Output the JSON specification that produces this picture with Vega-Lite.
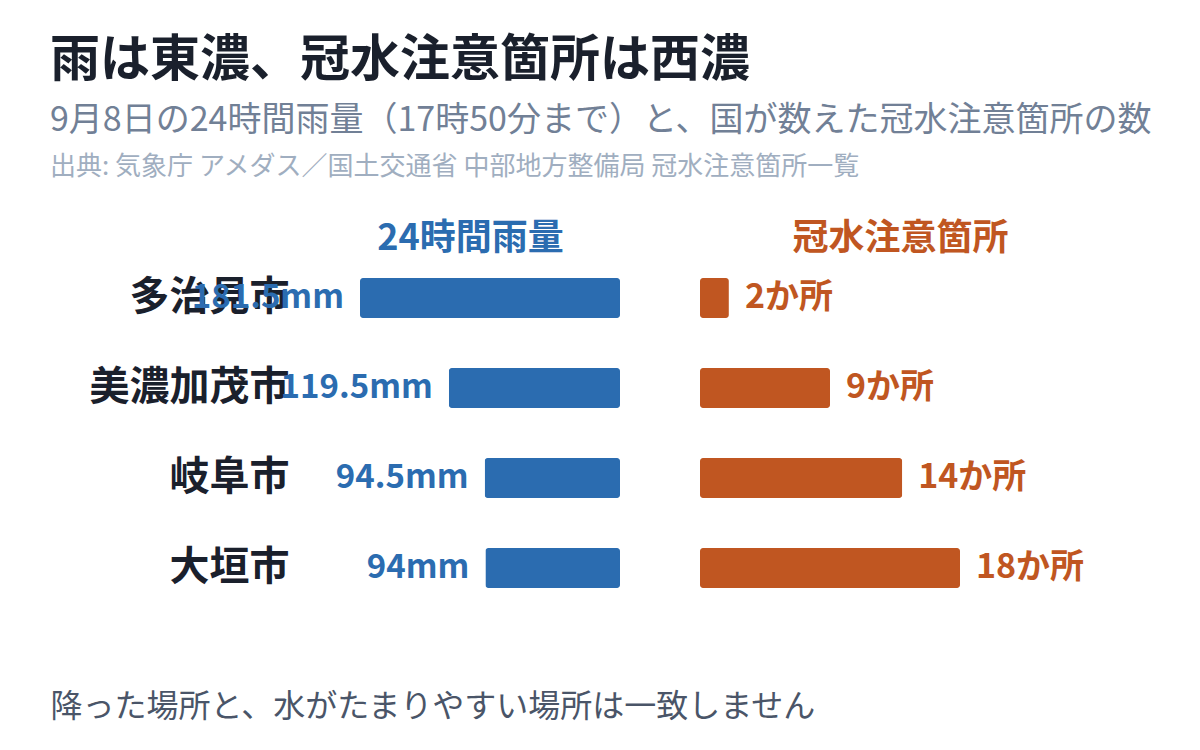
{
  "$schema": "https://vega.github.io/schema/vega-lite/v6.json",
  "background": "white",
  "padding": {"top": 36, "left": 50, "right": 10, "bottom": 10},
  "autosize": {"type": "pad"},
  "config": {"font": "Noto Sans CJK JP", "view": {"stroke": null}},
  "title": {
    "text": "雨は東濃、冠水注意箇所は西濃",
    "subtitle": "9月8日の24時間雨量（17時50分まで）と、国が数えた冠水注意箇所の数",
    "anchor": "start",
    "font": "Noto Sans CJK JP",
    "fontSize": 50,
    "fontWeight": "bold",
    "color": "#1a202c",
    "subtitleFont": "Noto Sans CJK JP",
    "subtitleFontSize": 34,
    "subtitleFontWeight": "normal",
    "subtitleColor": "#718096",
    "subtitlePadding": 18,
    "offset": 16
  },
  "data": {
    "values": [
      {"city": "多治見市", "rain": 181.5, "rainLabel": "181.5mm", "spots": 2, "spotsLabel": "2か所"},
      {"city": "美濃加茂市", "rain": 119.5, "rainLabel": "119.5mm", "spots": 9, "spotsLabel": "9か所"},
      {"city": "岐阜市", "rain": 94.5, "rainLabel": "94.5mm", "spots": 14, "spotsLabel": "14か所"},
      {"city": "大垣市", "rain": 94, "rainLabel": "94mm", "spots": 18, "spotsLabel": "18か所"}
    ]
  },
  "bounds": "flush",
  "spacing": 80,
  "hconcat": [
    {
      "width": 260,
      "height": 360,
      "title": {
        "text": "出典: 気象庁 アメダス／国土交通省 中部地方整備局 冠水注意箇所一覧",
        "anchor": "start",
        "font": "Noto Sans CJK JP",
        "fontSize": 26,
        "fontWeight": "normal",
        "color": "#a0aec0",
        "offset": 40
      },
      "encoding": {
        "y": {
          "field": "city",
          "type": "nominal",
          "sort": ["多治見市", "美濃加茂市", "岐阜市", "大垣市"],
          "scale": {"paddingInner": 0.5556, "paddingOuter": 0.2778},
          "axis": {
            "title": null,
            "domain": false,
            "ticks": false,
            "tickSize": 0,
            "labelPadding": 71,
            "labelLimit": 400,
            "labelFont": "Noto Sans CJK JP",
            "labelFontSize": 40,
            "labelFontWeight": "bold",
            "labelColor": "#1a202c"
          }
        }
      },
      "layer": [
        {
          "mark": {"type": "bar", "color": "#2b6cb0", "cornerRadius": 3},
          "encoding": {
            "x": {
              "field": "rain",
              "type": "quantitative",
              "scale": {"domain": [0, 181.5], "reverse": true, "nice": false},
              "axis": {
                "orient": "top",
                "title": "24時間雨量",
                "labels": false,
                "ticks": false,
                "domain": false,
                "grid": false,
                "titleFont": "Noto Sans CJK JP",
                "titleFontSize": 36,
                "titleFontWeight": "bold",
                "titleColor": "#2b6cb0",
                "titleX": 110,
                "titleAlign": "center",
                "titlePadding": -4
              }
            }
          }
        },
        {
          "mark": {"type": "text", "align": "right", "baseline": "middle", "dx": -16, "font": "Noto Sans CJK JP", "fontSize": 33, "fontWeight": "bold", "color": "#2b6cb0"},
          "encoding": {
            "x": {
              "field": "rain",
              "type": "quantitative",
              "axis": {
                "orient": "bottom",
                "title": "降った場所と、水がたまりやすい場所は一致しません",
                "labels": false,
                "ticks": false,
                "domain": false,
                "grid": false,
                "titleFont": "Noto Sans CJK JP",
                "titleFontSize": 32,
                "titleFontWeight": "normal",
                "titleColor": "#4a5568",
                "titleX": -310,
                "titleY": 93,
                "titleAlign": "left",
                "titleBaseline": "middle"
              }
            },
            "text": {"field": "rainLabel"}
          }
        }
      ],
      "resolve": {"axis": {"x": "independent"}}
    },
    {
      "width": 260,
      "height": 360,
      "encoding": {
        "y": {
          "field": "city",
          "type": "nominal",
          "sort": ["多治見市", "美濃加茂市", "岐阜市", "大垣市"],
          "scale": {"paddingInner": 0.5556, "paddingOuter": 0.2778},
          "axis": null
        },
        "x": {
          "field": "spots",
          "type": "quantitative",
          "scale": {"domain": [0, 18], "nice": false},
          "axis": {
            "orient": "top",
            "title": "冠水注意箇所",
            "labels": false,
            "ticks": false,
            "domain": false,
            "grid": false,
            "titleFont": "Noto Sans CJK JP",
            "titleFontSize": 36,
            "titleFontWeight": "bold",
            "titleColor": "#c05621",
            "titleX": 200,
            "titleAlign": "center",
            "titlePadding": -4
          }
        }
      },
      "layer": [
        {"mark": {"type": "bar", "color": "#c05621", "cornerRadius": 3}},
        {
          "mark": {"type": "text", "align": "left", "baseline": "middle", "dx": 16, "font": "Noto Sans CJK JP", "fontSize": 34, "fontWeight": "bold", "color": "#c05621"},
          "encoding": {"text": {"field": "spotsLabel"}}
        }
      ]
    }
  ]
}
